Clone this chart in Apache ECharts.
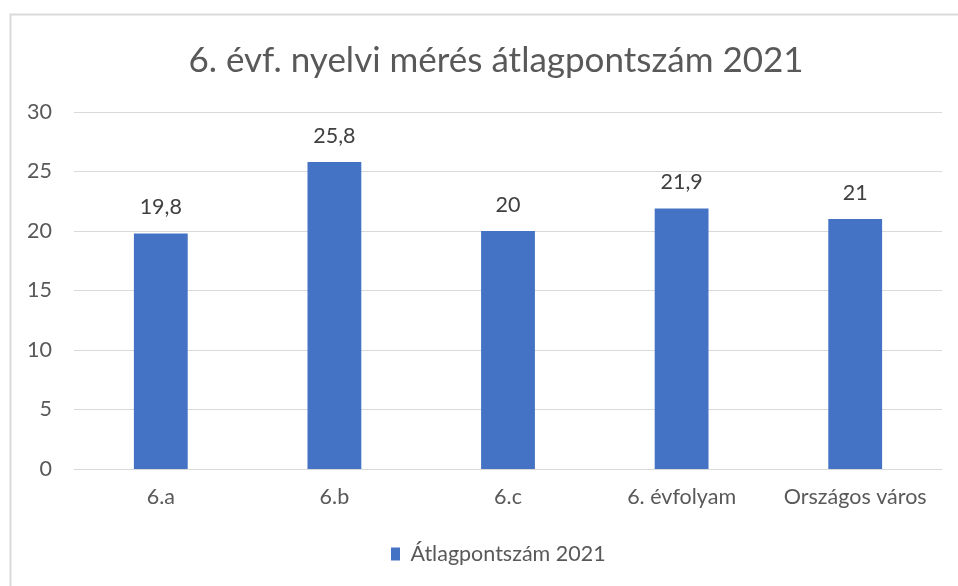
<!DOCTYPE html>
<html><head><meta charset="utf-8">
<script src="https://cdn.jsdelivr.net/npm/echarts@6/dist/echarts.min.js"></script>
<style>html,body{margin:0;padding:0;background:#fff}#c{width:958px;height:586px}</style>
</head><body><div id="c"></div>
<script>
var categories = ['6.a', '6.b', '6.c', '6. évfolyam', 'Országos város'];
var values = [19.8, 25.8, 20, 21.9, 21];
var seriesName = 'Átlagpontszám 2021';
var titleText = '6. évf. nyelvi mérés átlagpontszám 2021';
var yTicks = [0, 5, 10, 15, 20, 25, 30];

var font = 'Lato, "Open Sans", sans-serif';
var fs = 21.5;
var chart = echarts.init(document.getElementById('c'), null, {renderer: 'canvas'});
chart.setOption({
  animation: false,
  backgroundColor: '#fff',
  graphic: [{
    type: 'rect', shape: {x: 10.5, y: 14.5, width: 980, height: 620},
    style: {fill: 'none', stroke: '#d9d9d9', lineWidth: 2}, z: -1
  }],
  title: {
    text: titleText, left: 491, textAlign: 'center', top: 38,
    textStyle: {fontFamily: font, fontSize: 35, fontWeight: 'normal', color: '#595959'}
  },
  legend: {
    top: 538, left: 386, itemWidth: 9, itemHeight: 13, icon: 'rect',
    formatter: function (n) { return ' ' + n; },
    textStyle: {fontFamily: font, fontSize: fs, color: '#595959'}
  },
  grid: {left: 74, right: 16, top: 112, bottom: 117, containLabel: false},
  xAxis: {
    type: 'category', data: categories,
    axisLine: {lineStyle: {color: '#d9d9d9', width: 1}},
    axisTick: {show: false},
    axisLabel: {interval: 0, hideOverlap: false, fontFamily: font, fontSize: fs, color: '#595959', margin: 17}
  },
  yAxis: {
    type: 'value', min: 0, max: 30, interval: 5,
    axisLine: {show: false}, axisTick: {show: false},
    splitLine: {lineStyle: {color: '#d9d9d9', width: 1}},
    axisLabel: {fontFamily: font, fontSize: fs, color: '#595959', margin: 22,
      formatter: function (v) { return yTicks.indexOf(v) >= 0 ? String(v) : ''; }}
  },
  series: [{
    name: seriesName, type: 'bar', data: values, barWidth: '31%',
    itemStyle: {color: '#4472c4'},
    label: {show: true, position: 'top', distance: 15, fontFamily: font, fontSize: fs, color: '#404040',
      formatter: function (p) { return String(p.value).replace('.', ','); }}
  }]
});
</script></body></html>
